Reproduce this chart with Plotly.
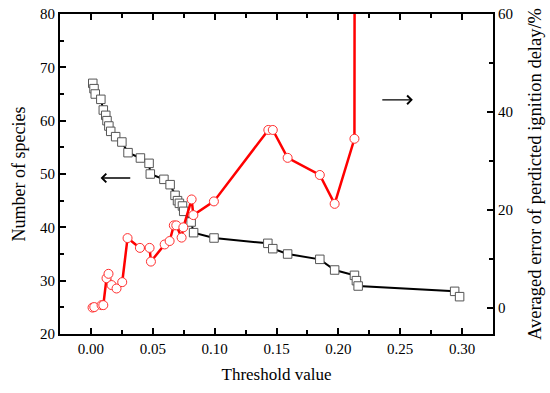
import plotly.graph_objects as go

# Number of species (left axis)
species_x = [0.0015, 0.0025, 0.0035, 0.008, 0.010, 0.012, 0.013, 0.0145, 0.016, 0.020,
             0.025, 0.030, 0.040, 0.047, 0.048, 0.059, 0.064, 0.068, 0.070, 0.0715,
             0.074, 0.075, 0.081, 0.083, 0.0995, 0.143, 0.147, 0.159, 0.185, 0.197,
             0.213, 0.2146, 0.216, 0.294, 0.298]
species_y = [67, 66, 65, 64, 62, 61, 60, 59, 58, 57,
             56, 54, 53, 52, 50, 49, 48, 46, 45, 44.5,
             44, 43, 41, 39, 38, 37, 36, 35, 34, 32,
             31, 30, 29, 28, 27]

# Averaged error of predicted ignition delay (right axis, %)
error_x = [0.0013, 0.0027, 0.0086, 0.010, 0.0126, 0.0142, 0.0167, 0.0207, 0.0253, 0.0296,
           0.0396, 0.0474, 0.0485, 0.0596, 0.0636, 0.067, 0.069, 0.0733, 0.0747, 0.0814,
           0.0828, 0.0994, 0.1434, 0.147, 0.159, 0.185, 0.197, 0.213, 0.2135]
error_y = [0.0, 0.1, 0.5, 0.5, 6.0, 6.9, 4.6, 3.9, 5.2, 14.2,
           12.2, 12.2, 9.4, 12.9, 13.6, 16.8, 16.8, 14.3, 16.4, 22.1,
           18.9, 21.7, 36.3, 36.3, 30.6, 27.1, 21.2, 34.5, 150.0]

x_ticks = [0.00, 0.05, 0.10, 0.15, 0.20, 0.25, 0.30]
x_ticklabels = ["0.00", "0.05", "0.10", "0.15", "0.20", "0.25", "0.30"]

FONT = "Liberation Serif"

fig = go.Figure()
fig.add_trace(go.Scatter(
    x=species_x, y=species_y, mode="lines+markers",
    line=dict(color="black", width=2),
    marker=dict(symbol="square", size=8.5, color="white", line=dict(color="#555555", width=1)),
    yaxis="y", showlegend=False))
fig.add_trace(go.Scatter(
    x=error_x, y=error_y, mode="lines+markers",
    line=dict(color="#ff0000", width=2.5),
    marker=dict(symbol="circle", size=9, color="white", line=dict(color="#ff3030", width=1)),
    yaxis="y2", showlegend=False))

axis_common = dict(showline=True, linecolor="black", linewidth=2, ticks="inside",
                   tickcolor="black", tickwidth=2, ticklen=6, showgrid=False, zeroline=False,
                   automargin=False,
                   tickfont=dict(family=FONT, size=15, color="black"))

fig.update_layout(
    width=550, height=393,
    margin=dict(l=60, r=57, t=14, b=59),
    paper_bgcolor="white", plot_bgcolor="white",
    font=dict(family=FONT, color="black"),
    xaxis=dict(range=[-0.025, 0.325], tickvals=x_ticks, ticktext=x_ticklabels,
               mirror="ticks",
               minor=dict(dtick=0.025, tick0=0, ticks="inside", ticklen=4, tickwidth=1.5, tickcolor="black"),
               title=dict(text="Threshold value", font=dict(family=FONT, size=17), standoff=12),
               **axis_common),
    yaxis=dict(range=[20, 80], dtick=10,
               minor=dict(dtick=5, ticks="inside", ticklen=4, tickwidth=1.5, tickcolor="black"),
               title=dict(text="Number of species", font=dict(family=FONT, size=18), standoff=10),
               **axis_common),
    yaxis2=dict(range=[-5.4, 60], tickvals=[0, 20, 40, 60], overlaying="y", side="right",
                minor=dict(tickvals=[10, 30, 50], ticks="inside", ticklen=4, tickwidth=1.5, tickcolor="black"),
                title=dict(text="Averaged error of perdicted ignition delay/%", font=dict(family=FONT, size=18.5), standoff=16),
                **axis_common),
)

# direction arrows
fig.add_annotation(x=0.0078, y=49.25, ax=0.033, ay=49.25, xref="x", yref="y", axref="x", ayref="y",
                   showarrow=True, arrowhead=4, arrowsize=1.3, arrowwidth=1.3, arrowcolor="black", text="")
fig.add_annotation(x=0.2602, y=63.9, ax=0.2343, ay=63.9, xref="x", yref="y", axref="x", ayref="y",
                   showarrow=True, arrowhead=4, arrowsize=1.3, arrowwidth=1.3, arrowcolor="black", text="")

fig.write_html("out.html", config={"displayModeBar": False},
               post_script="document.body.style.margin='0';document.body.style.overflow='hidden';")
